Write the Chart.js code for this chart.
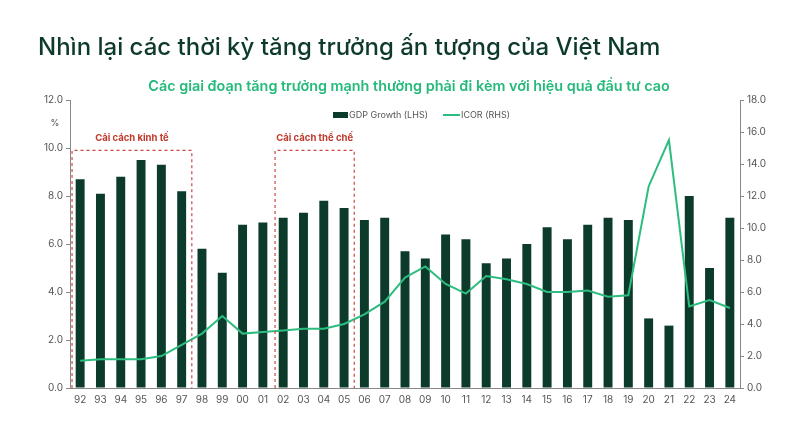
<!DOCTYPE html>
<html>
<head>
<meta charset="utf-8">
<script src="https://cdn.jsdelivr.net/npm/chart.js@4.4.1/dist/chart.umd.min.js"></script>
<style>
  html, body { margin: 0; padding: 0; background: #fff; }
  #wrap { width: 800px; height: 426px; }
</style>
</head>
<body>
<div id="wrap"><canvas id="growthChart" width="800" height="426"></canvas></div>
<script>
// years (2-digit) on the x axis
var years = ['92','93','94','95','96','97','98','99','00','01','02','03','04','05','06','07',
             '08','09','10','11','12','13','14','15','16','17','18','19','20','21','22','23','24'];
// GDP growth, % (left axis)
var gdpGrowth = [8.7, 8.1, 8.8, 9.5, 9.3, 8.2, 5.8, 4.8, 6.8, 6.9, 7.1, 7.3, 7.8, 7.5, 7.0, 7.1,
                 5.7, 5.4, 6.4, 6.2, 5.2, 5.4, 6.0, 6.7, 6.2, 6.8, 7.1, 7.0, 2.9, 2.6, 8.0, 5.0, 7.1];
// ICOR (right axis)
var icor = [1.7, 1.8, 1.8, 1.8, 2.0, 2.7, 3.4, 4.5, 3.4, 3.5, 3.6, 3.7, 3.7, 4.0, 4.6, 5.4,
            6.9, 7.6, 6.5, 5.9, 7.0, 6.8, 6.5, 6.0, 6.0, 6.1, 5.7, 5.8, 12.6, 15.5, 5.1, 5.5, 5.0];
// highlighted reform periods
var periodLabels = ['Cải cách kinh tế', 'Cải cách thể chế'];
var periodStart = ['92', '02'];
var periodEnd = ['97', '05'];

var barColor = '#0c3b2b';
var lineColor = '#2dbd80';
var tickColor = '#555555';
var fontFamily = 'Inter, "Noto Sans", sans-serif';

// dashed boxes, "%" label and legend drawn on top of the chart
var extras = {
    id: 'extras',
    afterDatasetsDraw: function (chart) {
        var ctx = chart.ctx;
        var x = chart.scales.x, y = chart.scales.y;
        ctx.save();
        for (var i = 0; i < periodLabels.length; i++) {
            var left = x.getPixelForValue(years.indexOf(periodStart[i]) - 0.4);
            var right = x.getPixelForValue(years.indexOf(periodEnd[i]) + 0.5);
            var top = y.getPixelForValue(9.9);
            var bottom = y.getPixelForValue(0);
            ctx.strokeStyle = '#c94a44';
            ctx.lineWidth = 1.2;
            ctx.setLineDash([3, 3]);
            ctx.beginPath();
            ctx.moveTo(left, bottom);
            ctx.lineTo(left, top);
            ctx.lineTo(right, top);
            ctx.lineTo(right, bottom);
            ctx.stroke();
            ctx.setLineDash([]);
            ctx.fillStyle = '#c0392b';
            ctx.font = 'bold 9.5px ' + fontFamily;
            ctx.textAlign = 'center';
            ctx.textBaseline = 'middle';
            ctx.fillText(periodLabels[i], (left + right) / 2, top - 12);
        }
        // % unit label
        ctx.fillStyle = tickColor;
        ctx.font = '9px ' + fontFamily;
        ctx.textAlign = 'center';
        ctx.fillText('%', 55, 123);

        // legend
        var ly = 115;
        ctx.fillStyle = barColor;
        ctx.fillRect(333, ly - 3, 15, 6);
        ctx.fillStyle = tickColor;
        ctx.textAlign = 'left';
        ctx.font = '9px ' + fontFamily;
        ctx.fillText(chart.data.datasets[0].label, 349, ly);
        ctx.strokeStyle = lineColor;
        ctx.lineWidth = 2;
        ctx.beginPath();
        ctx.moveTo(443, ly);
        ctx.lineTo(460, ly);
        ctx.stroke();
        ctx.fillText(chart.data.datasets[1].label, 461, ly);
        ctx.restore();
    }
};

var ctx = document.getElementById('growthChart').getContext('2d');
new Chart(ctx, {
    type: 'bar',
    data: {
        labels: years,
        datasets: [{
            type: 'bar',
            label: 'GDP Growth (LHS)',
            data: gdpGrowth,
            yAxisID: 'y',
            backgroundColor: barColor,
            categoryPercentage: 1,
            barPercentage: 0.44,
            order: 1
        }, {
            type: 'line',
            label: 'ICOR (RHS)',
            data: icor,
            yAxisID: 'y1',
            borderColor: lineColor,
            borderWidth: 2,
            pointRadius: 0,
            tension: 0,
            order: 0
        }]
    },
    options: {
        responsive: false,
        animation: false,
        layout: { padding: { left: 38, right: 20, top: 0, bottom: 14 } },
        plugins: {
            legend: { display: false },
            tooltip: { enabled: false },
            title: {
                display: true,
                text: 'Nhìn lại các thời kỳ tăng trưởng ấn tượng của Việt Nam',
                align: 'start',
                color: '#0d3a2c',
                font: { family: fontFamily, size: 24, weight: '500', lineHeight: 1.2 },
                padding: { top: 33, bottom: 9 }
            },
            subtitle: {
                display: true,
                text: 'Các giai đoạn tăng trưởng mạnh thường phải đi kèm với hiệu quả đầu tư cao',
                color: '#25b97a',
                font: { family: fontFamily, size: 14.4, weight: '600', lineHeight: 1.2 },
                padding: { top: 7, bottom: 5 }
            }
        },
        scales: {
            x: {
                grid: { display: false, drawTicks: false },
                border: { color: '#888' },
                ticks: { color: tickColor, padding: 6, font: { family: fontFamily, size: 10 }, maxRotation: 0, autoSkip: false }
            },
            y: {
                position: 'left',
                min: 0, max: 12,
                grid: { drawOnChartArea: false, tickLength: 4, color: '#888' },
                border: { color: '#888' },
                ticks: {
                    stepSize: 2, color: tickColor, padding: 3,
                    font: { family: fontFamily, size: 10 },
                    callback: function (v) { return v.toFixed(1); }
                },
                afterFit: function (s) { s.width = 32; }
            },
            y1: {
                position: 'right',
                min: 0, max: 18,
                grid: { drawOnChartArea: false, tickLength: 4, color: '#888' },
                border: { color: '#888' },
                ticks: {
                    stepSize: 2, color: tickColor, padding: 3,
                    font: { family: fontFamily, size: 10 },
                    callback: function (v) { return v.toFixed(1); }
                },
                afterFit: function (s) { s.width = 40; }
            }
        }
    },
    plugins: [extras]
});
</script>
</body>
</html>
